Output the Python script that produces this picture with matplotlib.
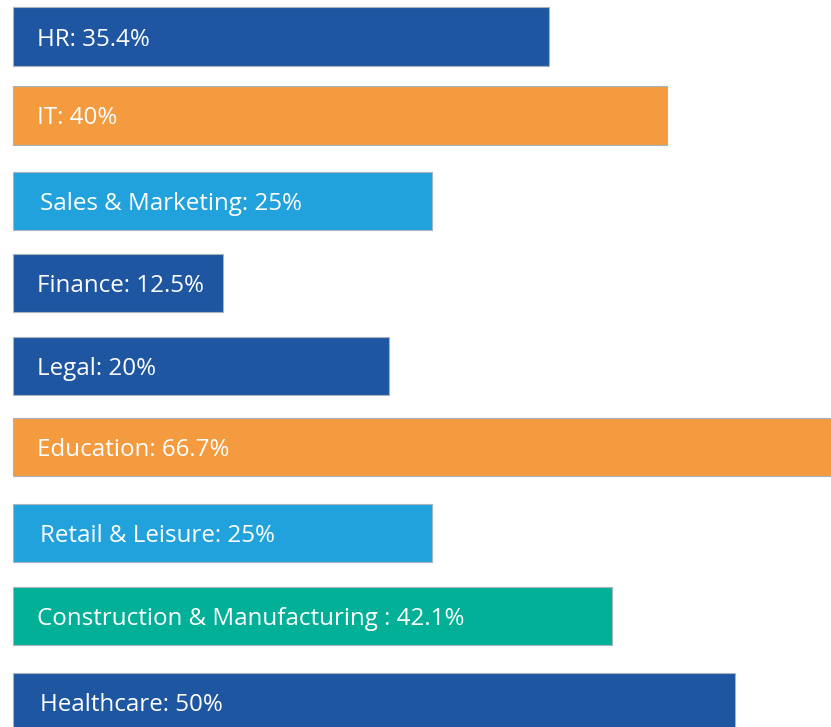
import matplotlib
matplotlib.use("Agg")
import matplotlib.pyplot as plt

categories = ["HR", "IT", "Sales & Marketing", "Finance", "Legal", "Education",
              "Retail & Leisure", "Construction & Manufacturing ", "Healthcare"]
value_labels = ["35.4%", "40%", "25%", "12.5%", "20%", "66.7%", "25%", "42.1%", "50%"]
# drawn bar lengths as they appear in the graphic (arbitrary length units)
bar_lengths = [536.5, 654, 419.5, 210, 376.5, 830, 419.5, 599, 722.5]

colors = ["#1E56A2", "#F49B40", "#22A2DC", "#1E56A2", "#1E56A2", "#F49B40",
          "#22A2DC", "#01B096", "#1E56A2"]

# layout (pixel-like units)
y_centers = [36.5, 115.3, 201, 283, 366, 447, 533, 616, 702]
bar_height = 58.5
x0 = 12.7
text_dx = [24.5, 24.5, 27.5, 24.5, 24.5, 24.5, 27.5, 24.5, 27.5]
text_dy = 3.0

fig = plt.figure(figsize=(8.31, 7.27), dpi=100)
ax = fig.add_axes([0, 0, 1, 1])
ax.set_xlim(0, 831)
ax.set_ylim(727, 0)
ax.axis("off")

ax.barh(y_centers, bar_lengths, height=bar_height, left=x0, color=colors,
        edgecolor="#A9B3BD", linewidth=0.8)

for y, cat, lab, dx in zip(y_centers, categories, value_labels, text_dx):
    ax.text(x0 + dx, y + text_dy, f"{cat}: {lab}", color="white", fontsize=17.4,
            family=["Open Sans", "DejaVu Sans"], va="center", ha="left")

fig.savefig("out.png", dpi=100)
